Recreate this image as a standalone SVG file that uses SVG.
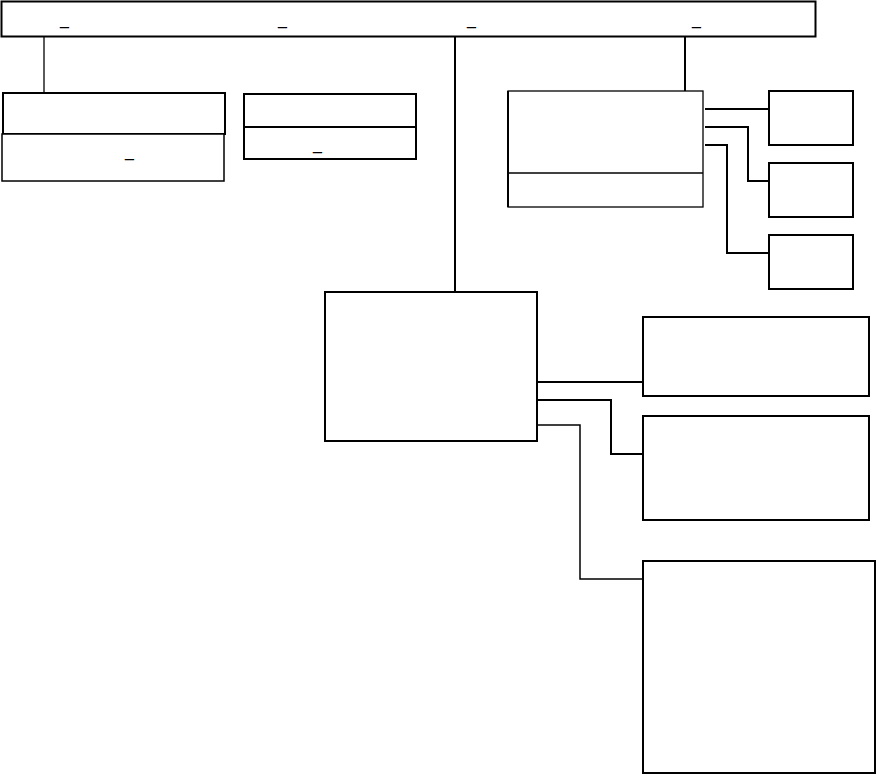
<svg xmlns="http://www.w3.org/2000/svg" width="876" height="775" viewBox="0 0 876 775">
<style>
.box{fill:#fff;stroke:#000;stroke-width:2}
.thin{fill:none;stroke:#000;stroke-width:1.3}
.c{fill:none;stroke:#000;stroke-width:2}
.t{font-family:"Liberation Sans",Arial,sans-serif;font-size:16px;fill:#000}
</style>
<rect width="876" height="775" fill="#fff"/>
<g id="connectors">
<line class="c" x1="44" y1="37" x2="44" y2="93" style="stroke-width:1.3"/>
<line class="c" x1="455" y1="37" x2="455" y2="292"/>
<line class="c" x1="685" y1="37" x2="685" y2="91"/>
<polyline class="c" points="705,109 769,109"/>
<polyline class="c" points="705,127 748,127 748,181 769,181"/>
<polyline class="c" points="705,145 727,145 727,253 769,253"/>
<polyline class="c" points="537,382 643,382"/>
<polyline class="c" points="537,400 611,400 611,454 643,454"/>
<polyline class="c" points="537,425 580,425 580,579 643,579" style="stroke-width:1.5"/>
</g>
<g id="top">
<rect class="box" x="1.5" y="1.5" width="814" height="35"/>
<text class="t" x="60" y="25">_</text>
<text class="t" x="278" y="25">_</text>
<text class="t" x="467" y="25">_</text>
<text class="t" x="692" y="25">_</text>
</g>
<g id="left1">
<rect class="box" x="3" y="93" width="222" height="41"/>
</g>
<g id="left2">
<rect class="box" x="2" y="134" width="222" height="47" style="stroke-width:1.5"/>
<text class="t" x="125" y="157">_</text>
</g>
<g id="mid">
<rect class="box" x="244" y="94" width="172" height="65"/>
<line class="c" x1="244" y1="127" x2="416" y2="127"/>
<text class="t" x="313" y="150">_</text>
</g>
<g id="right">
<rect class="thin" x="508" y="91" width="195" height="116" style="fill:#fff"/>
<line class="c" x1="508" y1="91" x2="508" y2="207"/>
<line class="thin" x1="508" y1="173" x2="703" y2="173"/>
</g>
<g id="r1"><rect class="box" x="769" y="91" width="84" height="54"/></g>
<g id="r2"><rect class="box" x="769" y="163" width="84" height="54"/></g>
<g id="r3"><rect class="box" x="769" y="235" width="84" height="54"/></g>
<g id="center"><rect class="box" x="325" y="292" width="212" height="149"/></g>
<g id="b1"><rect class="box" x="643" y="317" width="226" height="79"/></g>
<g id="b2"><rect class="box" x="643" y="416" width="226" height="104"/></g>
<g id="b3"><rect class="box" x="643" y="561" width="232" height="212"/></g>
</svg>
